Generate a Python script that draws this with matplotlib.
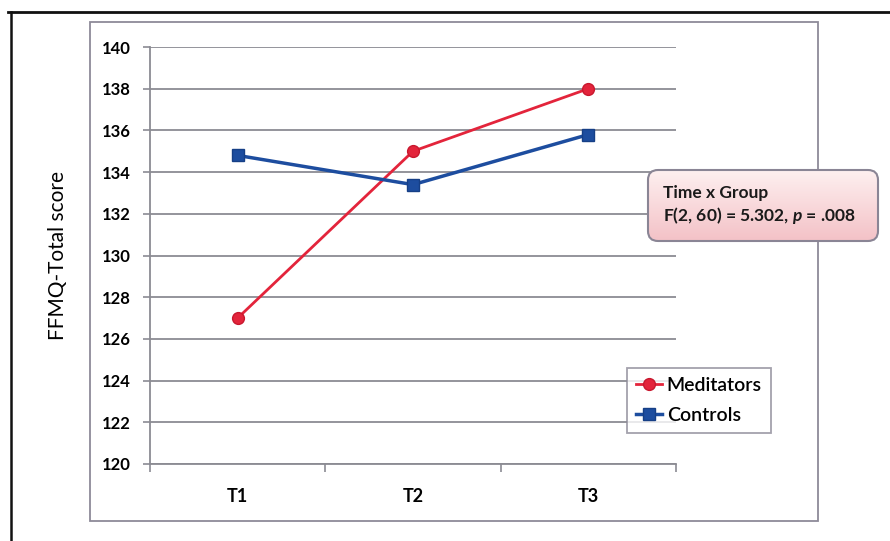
import numpy as np
import matplotlib
matplotlib.use("Agg")
import matplotlib.pyplot as plt
from matplotlib.patches import Rectangle, FancyBboxPatch
from matplotlib.lines import Line2D

# Data
timepoints = ["T1", "T2", "T3"]
meditators = [127.0, 135.0, 138.0]
controls = [134.8, 133.4, 135.8]
series_names = ["Meditators", "Controls"]
y_ticks = list(range(120, 141, 2))
stat_title = "Time x Group"
stat_line = "F(2, 60) = 5.302, $p$ = .008"

plt.rcParams["font.family"] = ["Lato", "DejaVu Sans"]
plt.rcParams["mathtext.fontset"] = "custom"
plt.rcParams["mathtext.it"] = "Lato:italic:bold"
plt.rcParams["mathtext.rm"] = "Lato"

W, H = 890, 541
fig = plt.figure(figsize=(W / 100, H / 100), dpi=100)

# main plotting area (pixel positions converted to figure fractions)
ax_l, ax_r, ax_t, ax_b = 150, 676, 47, 464
ax = fig.add_axes([ax_l / W, 1 - ax_b / H, (ax_r - ax_l) / W, (ax_b - ax_t) / H])

red = "#e3243b"
blue = "#1d4d9f"
grid_c = "#8b8b93"

x = np.arange(len(timepoints))
ax.plot(x, meditators, color=red, lw=2.0, marker="o", ms=8.5,
        mfc=red, mec="#c8182e", mew=1.0, label=series_names[0], zorder=4)
ax.plot(x, controls, color=blue, lw=2.5, marker="s", ms=9,
        mfc=blue, mec="#163f86", mew=1.0, label=series_names[1], zorder=4)

ax.set_xlim(-0.5, len(timepoints) - 0.5)
ax.set_ylim(120, 140)
ax.set_yticks(y_ticks)
ax.set_yticklabels([str(v) for v in y_ticks], fontsize=12, fontweight="bold")
ax.set_xticks(x)
ax.set_xticklabels(timepoints, fontsize=13, fontweight="bold")
ax.set_xticks(np.arange(-0.5, len(timepoints)), minor=True)
ax.tick_params(axis="x", which="major", length=0, pad=17)
ax.tick_params(axis="x", which="minor", length=6, color=grid_c, width=1.2, direction="out")
ax.tick_params(axis="y", length=5, color=grid_c, width=1.2, pad=9)

ax.grid(axis="y", color=grid_c, lw=1.3)
ax.set_axisbelow(True)
for s in ["top", "right"]:
    ax.spines[s].set_visible(False)
for s in ["left", "bottom"]:
    ax.spines[s].set_color(grid_c)
    ax.spines[s].set_linewidth(1.3)

ax.set_ylabel("FFMQ-Total score", fontsize=15, labelpad=24)

leg = ax.legend(loc="upper left", bbox_to_anchor=(627 / W, 1 - 368 / H),
                bbox_transform=fig.transFigure,
                prop={"size": 14, "weight": "semibold"}, frameon=True,
                fancybox=False, shadow=False, handlelength=1.35,
                handletextpad=0.25, labelspacing=0.68, borderpad=0.45,
                borderaxespad=0)
leg.get_frame().set_edgecolor("#8d8a98")
leg.get_frame().set_linewidth(1.3)
leg.set_zorder(6)

# overlay in pixel coordinates for the surrounding frame and the stats box
deco = fig.add_axes([0, 0, 1, 1], zorder=10)
deco.set_xlim(0, W)
deco.set_ylim(H, 0)
deco.axis("off")
deco.patch.set_alpha(0)

# outer page rule lines
deco.add_line(Line2D([8, W], [12, 12], color="#111111", lw=2.0))
deco.add_line(Line2D([11, 11], [12, H], color="#111111", lw=1.8))

# chart area border
deco.add_patch(Rectangle((90, 22), 728, 499, fill=False, ec="#8d8a98", lw=1.3))

# stats callout with a soft pink gradient
bx, by, bw, bh = 648, 170, 230, 71
box = FancyBboxPatch((bx, by), bw, bh, boxstyle="round,pad=0,rounding_size=10",
                     fc="none", ec="#8a8595", lw=1.5, zorder=3)
grad = np.linspace(0, 1, 64)[:, None]
top_c = np.array([0.995, 0.94, 0.94])
bot_c = np.array([0.955, 0.76, 0.78])
img = top_c + (bot_c - top_c) * grad[..., None] * np.ones((1, 2, 1))
im = deco.imshow(img, extent=(bx, bx + bw, by + bh, by), aspect="auto",
                 interpolation="bicubic", zorder=2)
fill = FancyBboxPatch((bx, by), bw, bh, boxstyle="round,pad=0,rounding_size=10",
                      fc="none", ec="none")
deco.add_patch(fill)
im.set_clip_path(fill)
deco.add_patch(box)
deco.set_xlim(0, W)
deco.set_ylim(H, 0)

deco.text(bx + 15, by + 23, stat_title, fontsize=12.5, fontweight="bold",
          color="#1a1a1a", va="center", ha="left", zorder=4)
deco.text(bx + 15, by + 46, stat_line, fontsize=12.5, fontweight="bold",
          color="#1a1a1a", va="center", ha="left", zorder=4)

fig.savefig("out.png", dpi=100)
